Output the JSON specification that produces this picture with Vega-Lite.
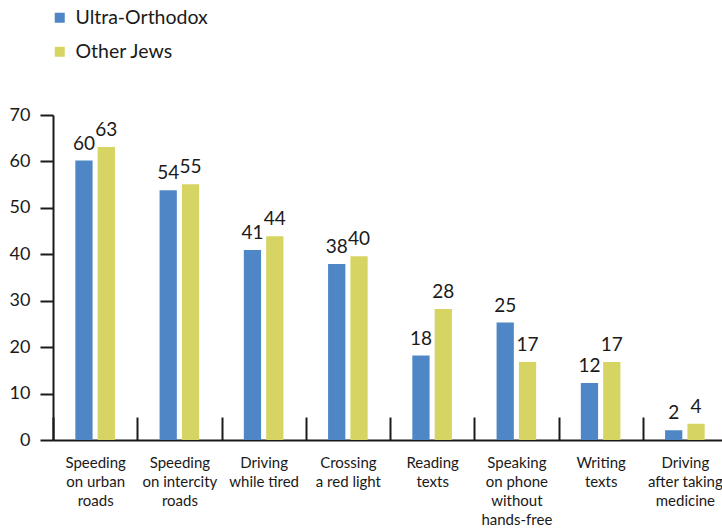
{
  "$schema": "https://vega.github.io/schema/vega-lite/v6.json",
  "width": 674,
  "height": 325,
  "autosize": {"type": "none"},
  "padding": {"left": 53, "top": 115, "right": 0, "bottom": 91},
  "background": "white",
  "config": {
    "font": "Lato",
    "view": {"stroke": null},
    "axis": {"grid": false, "domainColor": "#1a1a1a", "tickColor": "#1a1a1a", "labelColor": "#1a1a1a", "domainWidth": 2, "tickWidth": 2, "titleFontSize": 0}
  },
  "data": {
    "values": [
      {"cat": "Speeding|on urban|roads", "group": "Ultra-Orthodox", "value": 60.2, "label": "60"},
      {"cat": "Speeding|on urban|roads", "group": "Other Jews", "value": 63.1, "label": "63"},
      {"cat": "Speeding|on intercity|roads", "group": "Ultra-Orthodox", "value": 53.8, "label": "54"},
      {"cat": "Speeding|on intercity|roads", "group": "Other Jews", "value": 55.1, "label": "55"},
      {"cat": "Driving|while tired", "group": "Ultra-Orthodox", "value": 40.9, "label": "41"},
      {"cat": "Driving|while tired", "group": "Other Jews", "value": 43.9, "label": "44"},
      {"cat": "Crossing|a red light", "group": "Ultra-Orthodox", "value": 37.9, "label": "38"},
      {"cat": "Crossing|a red light", "group": "Other Jews", "value": 39.6, "label": "40"},
      {"cat": "Reading|texts", "group": "Ultra-Orthodox", "value": 18.2, "label": "18"},
      {"cat": "Reading|texts", "group": "Other Jews", "value": 28.2, "label": "28"},
      {"cat": "Speaking|on phone|without|hands-free", "group": "Ultra-Orthodox", "value": 25.3, "label": "25"},
      {"cat": "Speaking|on phone|without|hands-free", "group": "Other Jews", "value": 16.8, "label": "17"},
      {"cat": "Writing|texts", "group": "Ultra-Orthodox", "value": 12.3, "label": "12"},
      {"cat": "Writing|texts", "group": "Other Jews", "value": 16.8, "label": "17"},
      {"cat": "Driving|after taking|medicine", "group": "Ultra-Orthodox", "value": 2.1, "label": "2"},
      {"cat": "Driving|after taking|medicine", "group": "Other Jews", "value": 3.5, "label": "4"}
    ]
  },
  "encoding": {
    "x": {
      "field": "cat", "type": "nominal", "sort": null, "title": null,
      "scale": {"paddingInner": 0, "paddingOuter": 0},
      "axis": {
        "labelAngle": 0, "labelExpr": "split(datum.label, '|')",
        "labelFontSize": 15, "labelLineHeight": 19, "labelBaseline": "top",
        "tickBand": "extent", "tickSize": -23, "labelPadding": 38, "labelLimit": 0
      }
    },
    "xOffset": {"field": "group", "type": "nominal", "sort": ["Ultra-Orthodox", "Other Jews"], "scale": {"paddingInner": 0.227, "paddingOuter": 1.03}},
    "y": {
      "field": "value", "type": "quantitative", "title": null,
      "scale": {"domain": [0, 70], "nice": false},
      "axis": {"values": [0, 10, 20, 30, 40, 50, 60, 70], "tickSize": 13, "labelFontSize": 18, "labelPadding": 10}
    }
  },
  "layer": [
    {
      "mark": {"type": "bar"},
      "encoding": {
        "color": {
          "field": "group", "type": "nominal", "sort": ["Ultra-Orthodox", "Other Jews"],
          "scale": {"domain": ["Ultra-Orthodox", "Other Jews"], "range": ["#4f87c6", "#d6d563"]},
          "legend": {
            "title": null, "orient": "none", "legendX": -3, "legendY": -107, "direction": "vertical",
            "symbolType": "square", "symbolSize": 100, "symbolStrokeWidth": 0, "labelFontSize": 19.5,
            "labelColor": "#1a1a1a", "labelOffset": 6, "rowPadding": 13
          }
        }
      }
    },
    {
      "mark": {"type": "text", "baseline": "bottom", "dy": -7, "fontSize": 19, "color": "#1a1a1a"},
      "encoding": {"text": {"field": "label"}}
    }
  ]
}
